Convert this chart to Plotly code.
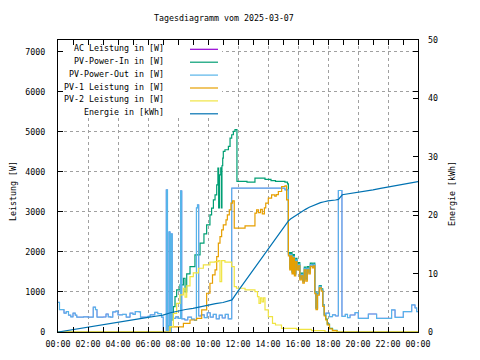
import numpy as np
import pandas as pd
import plotly.graph_objects as go

DAY = "2025-03-07"
TITLE = "Tagesdiagramm vom 2025-03-07"

# ---------------- data (hours of day, values) ----------------
# PV-Power-Out [W]
out_h = [0.00, 0.10, 0.40, 0.55, 0.70, 0.85, 1.00, 1.15, 1.25, 1.70, 2.00, 2.35, 2.50, 2.60,
         3.00, 3.20, 3.35, 3.50, 3.65, 3.85, 4.00, 4.30, 4.55, 4.80, 5.00, 5.15, 5.40, 5.50,
         6.00, 6.15, 6.45, 6.65, 6.90, 7.02, 7.22, 7.30, 7.40, 7.47, 7.55, 7.62, 7.85, 8.00,
         8.17, 8.25, 8.45, 8.65, 8.90, 9.10, 9.23, 9.30, 9.38, 9.55, 9.75, 9.95, 10.15, 10.35,
         10.55, 10.75, 10.95, 11.15, 11.35, 11.58, 15.13, 15.36, 15.45, 15.52, 15.60, 15.68,
         15.76, 15.85, 15.93, 16.02, 16.12, 16.22, 16.32, 16.42, 16.52, 16.62, 16.72, 16.82,
         16.95, 17.05, 17.12, 17.20, 17.30, 17.42, 17.55, 17.65, 17.75, 17.85, 18.10, 18.30,
         18.50, 18.69, 18.93, 19.15, 19.30, 19.47, 19.80, 20.02, 20.69, 21.24, 22.24, 22.47,
         23.02, 23.58, 23.80, 23.91, 24.00]
out_w = [740, 560, 470, 510, 420, 380, 470, 420, 370, 380, 370, 620, 560, 370,
         375, 450, 380, 370, 500, 520, 430, 440, 370, 470, 440, 510, 500, 370,
         390, 430, 490, 460, 370, 0, 3550, 0, 2500, 0, 2450, 340, 380, 340,
         3525, 330, 300, 370, 320, 290, 3100, 3175, 400, 430, 360, 480, 370, 440,
         330, 420, 350, 440, 330, 3590, 3550, 1940, 1590, 1940, 1490, 1890,
         1440, 1800, 1590, 1690, 1340, 1440, 1260, 1590, 1310, 1590, 1490, 1680,
         1640, 1690, 1000, 590, 950, 1140, 1050, 670, 430, 470, 383, 430,
         400, 3533, 390, 440, 360, 425, 483, 342, 450, 342, 550, 367,
         508, 675, 600, 508, 508]

# AC Leistung [W] (same readings as PV-Power-Out, mostly hidden beneath it)
ac_h = list(out_h)
ac_w = list(out_w)

# PV-Power-In [W]
in_h = [0.00, 7.13, 7.30, 7.47, 7.69, 7.80, 7.91, 8.13, 8.36, 8.47, 8.58, 8.80, 9.13, 9.47,
        9.73, 9.91, 10.13, 10.24, 10.36, 10.47, 10.58, 10.66, 10.71, 10.76, 10.85, 10.89,
        10.93, 10.98, 11.02, 11.13, 11.36, 11.47, 11.58, 11.69, 11.80, 11.93, 12.60, 13.13,
        13.80, 14.20, 14.50, 15.13, 15.30, 15.36, 15.45, 15.52, 15.60, 15.68, 15.76, 15.85,
        15.93, 16.02, 16.12, 16.22, 16.32, 16.42, 16.52, 16.62, 16.72, 16.82, 16.95, 17.05,
        17.12, 17.20, 17.30, 17.42, 17.55, 17.65, 17.75, 17.85, 17.95, 18.10, 18.30, 18.60, 24.00]
in_w = [0, 0, 150, 300, 633, 883, 1050, 1175, 1342, 1000, 1450, 1633, 1925, 2217,
        2450, 2675, 2925, 3092, 3300, 3425, 3675, 4092, 3100, 3925, 4100, 3100,
        4150, 4342, 4508, 4550, 4633, 4842, 4925, 5008, 5050, 3760, 3740, 3840,
        3810, 3780, 3760, 3740, 3700, 1980, 1620, 1980, 1520, 1930, 1470, 1840,
        1620, 1730, 1370, 1470, 1290, 1620, 1340, 1630, 1520, 1720, 1680, 1720,
        1010, 600, 970, 1160, 1080, 680, 430, 320, 200, 90, 40, 0, 0]

# PV-1 Leistung [W]
pv1_h = [0.00, 7.10, 7.47, 8.36, 8.80, 9.24, 9.58, 9.91, 10.13, 10.30, 10.47, 10.58, 10.69,
         10.80, 10.91, 11.02, 11.20, 11.29, 11.42, 11.53, 11.64, 11.75, 12.47, 13.13, 13.24,
         13.36, 13.50, 13.62, 13.76, 13.85, 14.02, 14.24, 14.45, 14.55, 14.69, 14.91, 15.13,
         15.24, 15.36, 15.45, 15.52, 15.60, 15.68, 15.76, 15.85, 15.93, 16.02, 16.12, 16.22,
         16.32, 16.42, 16.52, 16.62, 16.72, 16.82, 16.95, 17.05, 17.12, 17.20, 17.30, 17.42,
         17.55, 17.65, 17.75, 17.85, 17.95, 18.10, 18.30, 18.60, 24.00]
pv1_w = [0, 0, 130, 217, 300, 342, 550, 967, 1217, 1425, 1550, 1883, 2217,
         2383, 2550, 2675, 2800, 2925, 3050, 3217, 3275, 2592, 2650, 2967, 3050,
         2980, 3060, 2950, 3100, 3217, 3342, 3425, 3390, 3430, 3508, 3633, 3650,
         3300, 1900, 1550, 1900, 1450, 1850, 1400, 1760, 1550, 1650, 1300, 1400,
         1220, 1550, 1270, 1550, 1450, 1640, 1600, 1650, 960, 560, 920, 1100,
         1020, 640, 400, 300, 180, 80, 35, 0, 0]

# PV-2 Leistung [W]
pv2_h = [0.00, 7.13, 7.47, 7.69, 7.91, 8.13, 8.36, 8.47, 8.58, 8.80, 9.02, 9.36, 9.69, 10.13,
         10.47, 10.69, 10.80, 10.91, 11.13, 11.36, 11.58, 11.75, 11.90, 12.47, 13.13, 13.30,
         13.40, 13.50, 13.60, 13.70, 13.80, 14.02, 14.30, 14.50, 14.90, 15.90, 16.90, 17.80, 24.00]
pv2_w = [0, 0, 133, 467, 717, 925, 1092, 870, 1150, 1383, 1475, 1592, 1675, 1742,
         1758, 1783, 1258, 1783, 1742, 1742, 1633, 1133, 1092, 1050, 1008, 883,
         717, 850, 750, 850, 550, 383, 217, 175, 92, 67, 33, 0, 0]

# Energie [kWh]
en_h = [0.0, 0.5, 1.0, 1.5, 2.0, 2.5, 3.0, 3.5, 4.0, 4.5, 5.0, 5.5, 6.0, 6.5, 7.0, 7.5, 8.0,
        8.5, 9.0, 9.5, 10.0, 10.5, 11.0, 11.5, 11.6, 12.0, 12.5, 13.0, 13.5, 14.0, 14.5, 15.0,
        15.35, 15.5, 15.75, 16.0, 16.25, 16.5, 16.75, 17.0, 17.25, 17.5, 17.75, 18.0, 18.5,
        18.7, 18.95, 19.5, 20.0, 20.5, 21.0, 21.5, 22.0, 22.5, 23.0, 23.5, 24.0]
en_k = [0.0, 0.22, 0.43, 0.64, 0.85, 1.07, 1.3, 1.5, 1.72, 1.9, 2.1, 2.3, 2.5, 2.7, 2.9, 3.3, 3.6,
        3.85, 4.05, 4.35, 4.6, 4.85, 5.05, 5.35, 5.5, 7.0, 8.8, 10.6, 12.4, 14.2, 16.0, 17.8,
        19.0, 19.35, 19.8, 20.2, 20.6, 21.0, 21.35, 21.65, 21.95, 22.15, 22.3, 22.45, 22.6,
        22.7, 23.5, 23.7, 23.9, 24.1, 24.35, 24.6, 24.85, 25.1, 25.3, 25.5, 25.75]

names = ["AC Leistung in [W]", "PV-Power-In in [W]", "PV-Power-Out in [W]",
         "PV-1 Leistung in [W]", "PV-2 Leistung in [W]", "Energie in [kWh]"]
colors = ["#9400d3", "#009e73", "#56b4e9", "#e69f00", "#f0e442", "#0072b2"]
widths = [0.6, 1.2, 1.2, 1.2, 1.2, 1.2]

FONT = "DejaVu Sans Mono"
FS = 8.3

# page body has an 8px margin: figure placed at (8, 8)
OFF = 8
PL, PR, PT, PB = 58, 418, 40, 332   # plot area in window pixels


def ts(hours):
    return pd.Timestamp(DAY) + pd.to_timedelta(np.array(hours, dtype=float), unit="h")


def px(x):
    return (x - PL) / (PR - PL)


def py(y):
    return (PB - y) / (PB - PT)


series = [(ac_h, ac_w, "y", "hv"), (in_h, in_w, "y", "hv"), (out_h, out_w, "y", "hv"),
          (pv1_h, pv1_w, "y", "hv"), (pv2_h, pv2_w, "y", "hv"), (en_h, en_k, "y2", "linear")]

fig = go.Figure()
for (hh, vv, ax, shape), nm, col, wd in zip(series, names, colors, widths):
    fig.add_trace(go.Scatter(x=ts(hh), y=vv, name=nm, yaxis=ax, mode="lines",
                             line=dict(color=col, width=wd, shape=shape)))

grid = dict(gridcolor="#a0a0a0", griddash="3px,3px", gridwidth=1)
tickfont = dict(family=FONT, size=FS, color="black")

W, H = 480 - OFF, 360 - OFF
fig.update_layout(
    width=W, height=H,
    margin=dict(l=PL - OFF, r=W - (PR - OFF), t=PT - OFF, b=H - (PB - OFF)),
    paper_bgcolor="white", plot_bgcolor="white",
    showlegend=False,
    font=dict(family=FONT, size=FS, color="black"),
    xaxis=dict(type="date", range=[ts([0])[0], ts([24])[0]], dtick=7200000, automargin=False,
               tickformat="%H:%M", tick0=DAY, ticks="inside", ticklen=5, tickcolor="black",
               showline=True, linecolor="black", linewidth=1, mirror="allticks",
               minor=dict(dtick=3600000, ticks="inside", ticklen=3, tickcolor="black", showgrid=False),
               tickfont=tickfont, ticklabelstandoff=4, zeroline=False, **grid),
    yaxis=dict(range=[0, 7290], dtick=1000, ticks="inside", ticklen=5, tickcolor="black",
               showline=True, linecolor="black", linewidth=1, mirror="allticks", automargin=False,
               tickfont=tickfont, ticklabelstandoff=10, zeroline=False, **grid),
    yaxis2=dict(range=[0, 50], dtick=10, overlaying="y", side="right", ticks="inside",
                ticklen=5, tickcolor="black", showline=False, showgrid=False, zeroline=False,
                automargin=False, tickfont=tickfont, ticklabelstandoff=9),
)

ann = [
    dict(text=TITLE, x=px(223.5), y=py(18)),
    dict(text="Leistung [W]", x=px(13), y=py(191), textangle=-90),
    dict(text="Energie [kWh]", x=px(452), y=py(194), textangle=-90),
]
for a in ann:
    fig.add_annotation(xref="paper", yref="paper", showarrow=False, xanchor="center",
                       yanchor="middle", font=dict(family=FONT, size=FS, color="black"), **a)

# opaque key box (gnuplot style), drawn over the grid and traces
fig.add_shape(type="rect", xref="paper", yref="paper", x0=px(63), x1=px(222),
              y0=py(118), y1=py(45), line=dict(width=0), fillcolor="white", layer="above")

# gnuplot-style key: right-aligned text, sample line on the right
for i, (nm, col) in enumerate(zip(names, colors)):
    yy = 49.3 + 12.9 * i
    fig.add_annotation(xref="paper", yref="paper", x=px(166), y=py(yy - 1.5),
                       text=nm, showarrow=False, xanchor="right", yanchor="middle",
                       font=dict(family=FONT, size=FS, color="black"))
    fig.add_shape(type="line", xref="paper", yref="paper", x0=px(190), x1=px(218),
                  y0=py(yy), y1=py(yy), line=dict(color=col, width=1.2), layer="above")

fig.write_html("out.html")
